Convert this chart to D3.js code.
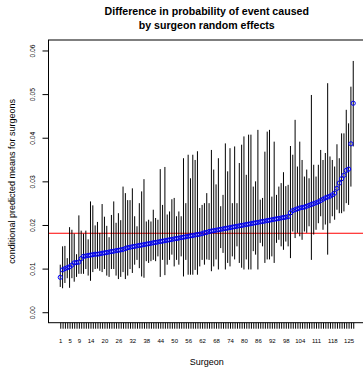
<!DOCTYPE html>
<html>
<head>
<meta charset="utf-8">
<script src="https://cdn.jsdelivr.net/npm/d3@7"></script>
<style>
  html, body { margin: 0; padding: 0; background: #fff; }
  svg { display: block; font-family: "Liberation Sans", Arial, Helvetica, sans-serif; }
</style>
</head>
<body>
<svg id="chart" width="363" height="367"></svg>
<script>
const titleLines = ["Difference in probability of event caused", "by surgeon random effects"];
const xTitle = "Surgeon";
const yTitle = "conditional predicted means for surgeons";
const referenceLine = 0.0181;
const yTicks = [0, 0.01, 0.02, 0.03, 0.04, 0.05, 0.06];
const yTickLabels = ["0.00", "0.01", "0.02", "0.03", "0.04", "0.05", "0.06"];
const xLabelled = [1, 5, 9, 14, 20, 26, 32, 38, 44, 50, 56, 62, 68, 74, 80, 86, 92, 98, 104, 111, 118, 125];

const means = [
  0.0080, 0.0097, 0.0100, 0.0102, 0.0104, 0.0108, 0.0113, 0.0114, 0.0115, 0.0123,
  0.0128, 0.0129, 0.0130, 0.0131, 0.0132, 0.0133, 0.0133, 0.0134, 0.0135, 0.0136,
  0.0137, 0.0138, 0.0139, 0.0140, 0.0141, 0.0142, 0.0143, 0.0144, 0.0146, 0.0148,
  0.0149, 0.0150, 0.0151, 0.0152, 0.0153, 0.0154, 0.0155, 0.0156, 0.0157, 0.0158,
  0.0159, 0.0160, 0.0161, 0.0162, 0.0163, 0.0164, 0.0165, 0.0166, 0.0167, 0.0168,
  0.0169, 0.0170, 0.0171, 0.0172, 0.0173, 0.0174, 0.0175, 0.0176, 0.0177, 0.0178,
  0.0179, 0.0180, 0.0182, 0.0183, 0.0185, 0.0186, 0.0187, 0.0188, 0.0189, 0.0190,
  0.0191, 0.0192, 0.0193, 0.0194, 0.0195, 0.0196, 0.0197, 0.0198, 0.0199, 0.0200,
  0.0201, 0.0202, 0.0203, 0.0204, 0.0205, 0.0206, 0.0207, 0.0208, 0.0209, 0.0210,
  0.0211, 0.0212, 0.0213, 0.0214, 0.0215, 0.0216, 0.0217, 0.0218, 0.0219, 0.0228,
  0.0233, 0.0235, 0.0237, 0.0239, 0.0240, 0.0241, 0.0243, 0.0245, 0.0247, 0.0249,
  0.0251, 0.0253, 0.0256, 0.0259, 0.0262, 0.0264, 0.0266, 0.0269, 0.0273, 0.0284,
  0.0296, 0.0306, 0.0314, 0.0325, 0.0328, 0.0386, 0.0479
];
const lower = [
  0.0058, 0.0055, 0.0067, 0.0078, 0.0056, 0.0078, 0.0070, 0.0081, 0.0088, 0.0088,
  0.0088, 0.0099, 0.0084, 0.0072, 0.0092, 0.0099, 0.0100, 0.0095, 0.0092, 0.0099,
  0.0084, 0.0081, 0.0099, 0.0099, 0.0084, 0.0076, 0.0081, 0.0092, 0.0076, 0.0084,
  0.0099, 0.0090, 0.0109, 0.0120, 0.0101, 0.0082, 0.0079, 0.0117, 0.0113, 0.0117,
  0.0120, 0.0117, 0.0128, 0.0081, 0.0120, 0.0085, 0.0109, 0.0120, 0.0132, 0.0105,
  0.0120, 0.0109, 0.0128, 0.0082, 0.0120, 0.0086, 0.0086, 0.0086, 0.0097, 0.0086,
  0.0105, 0.0120, 0.0109, 0.0121, 0.0120, 0.0094, 0.0105, 0.0121, 0.0098, 0.0147,
  0.0136, 0.0098, 0.0113, 0.0105, 0.0128, 0.0121, 0.0151, 0.0113, 0.0102, 0.0098,
  0.0121, 0.0098, 0.0098, 0.0140, 0.0132, 0.0098, 0.0159, 0.0151, 0.0113, 0.0121,
  0.0121, 0.0128, 0.0113, 0.0159, 0.0166, 0.0151, 0.0143, 0.0162, 0.0151, 0.0124,
  0.0185, 0.0170, 0.0182, 0.0174, 0.0166, 0.0185, 0.0182, 0.0197, 0.0120, 0.0178,
  0.0189, 0.0204, 0.0220, 0.0189, 0.0201, 0.0132, 0.0204, 0.0220, 0.0212, 0.0235,
  0.0227, 0.0227, 0.0231, 0.0250, 0.0246, 0.0288, 0.0380
];
const upper = [
  0.0109, 0.0151, 0.0152, 0.0124, 0.0195, 0.0189, 0.0180, 0.0133, 0.0222, 0.0187,
  0.0180, 0.0187, 0.0167, 0.0254, 0.0245, 0.0199, 0.0207, 0.0182, 0.0248, 0.0219,
  0.0198, 0.0172, 0.0223, 0.0254, 0.0205, 0.0227, 0.0211, 0.0288, 0.0273, 0.0257,
  0.0257, 0.0284, 0.0220, 0.0197, 0.0250, 0.0277, 0.0305, 0.0208, 0.0212, 0.0208,
  0.0235, 0.0216, 0.0212, 0.0328, 0.0246, 0.0333, 0.0224, 0.0231, 0.0259, 0.0262,
  0.0220, 0.0231, 0.0220, 0.0353, 0.0250, 0.0361, 0.0307, 0.0361, 0.0349, 0.0369,
  0.0239, 0.0246, 0.0250, 0.0273, 0.0250, 0.0372, 0.0327, 0.0293, 0.0353, 0.0243,
  0.0269, 0.0387, 0.0323, 0.0376, 0.0250, 0.0380, 0.0250, 0.0342, 0.0384, 0.0403,
  0.0315, 0.0407, 0.0407, 0.0288, 0.0300, 0.0418, 0.0258, 0.0262, 0.0368, 0.0414,
  0.0418, 0.0265, 0.0391, 0.0269, 0.0288, 0.0296, 0.0321, 0.0289, 0.0292, 0.0381,
  0.0361, 0.0441, 0.0334, 0.0391, 0.0349, 0.0311, 0.0327, 0.0307, 0.0498, 0.0338,
  0.0311, 0.0338, 0.0372, 0.0349, 0.0365, 0.0525, 0.0357, 0.0349, 0.0334, 0.0385,
  0.0353, 0.0410, 0.0410, 0.0464, 0.0433, 0.0517, 0.0576
];

const surgeons = means.map((m, i) => i + 1);
const rows = surgeons.map((s, i) => ({ s, m: means[i], lo: lower[i], hi: upper[i] }));

const svg = d3.select("#chart");
const plot = { left: 48.5, right: 365, top: 40, bottom: 322.7 };

const x = d3.scaleLinear().domain([1 - 5.06, surgeons.length + 5.06]).range([plot.left, plot.right]);
const y = d3.scaleLinear().domain([-0.0024, 0.0624]).range([plot.bottom, plot.top]);

svg.append("rect").attr("width", 363).attr("height", 367).attr("fill", "#fff");

// title
svg.append("g").selectAll("text").data(titleLines).join("text")
  .attr("x", (plot.left + plot.right) / 2)
  .attr("y", (d, i) => 15.4 + i * 13.3)
  .attr("text-anchor", "middle")
  .attr("font-weight", "bold")
  .attr("font-size", "10.6px")
  .attr("fill", "#000")
  .text(d => d);

// reference line
svg.append("line")
  .attr("x1", plot.left).attr("x2", plot.right)
  .attr("y1", y(referenceLine)).attr("y2", y(referenceLine))
  .attr("stroke", "#ff0000").attr("stroke-width", 1);

// intervals
svg.append("g").selectAll("line").data(rows).join("line")
  .attr("x1", d => x(d.s)).attr("x2", d => x(d.s))
  .attr("y1", d => y(d.lo)).attr("y2", d => y(d.hi))
  .attr("stroke", "#000").attr("stroke-width", 1);

// means
svg.append("g").selectAll("circle").data(rows).join("circle")
  .attr("cx", d => x(d.s)).attr("cy", d => y(d.m))
  .attr("r", 2.1)
  .attr("fill", "none").attr("stroke", "#0000ff").attr("stroke-width", 1);

// box
svg.append("rect")
  .attr("x", plot.left).attr("y", plot.top)
  .attr("width", plot.right - plot.left).attr("height", plot.bottom - plot.top)
  .attr("fill", "none").attr("stroke", "#000").attr("stroke-width", 1);

// y axis
const yAxis = d3.axisLeft(y).tickValues(yTicks).tickSize(6)
  .tickFormat((d, i) => yTickLabels[i]);
const gy = svg.append("g").attr("transform", `translate(${plot.left},0)`).call(yAxis);
gy.select(".domain").remove();
gy.selectAll(".tick line").attr("stroke", "#000");
gy.selectAll(".tick text")
  .attr("transform", "rotate(-90)")
  .attr("x", 0).attr("y", -13.7).attr("dy", null)
  .attr("text-anchor", "middle")
  .attr("font-size", "6.8px")
  .attr("font-family", "Liberation Sans, Arial, sans-serif")
  .attr("fill", "#000");

// x axis
const xAxis = d3.axisBottom(x).tickValues(surgeons).tickSize(6)
  .tickFormat(d => xLabelled.includes(d) ? String(d) : "");
const gx = svg.append("g").attr("transform", `translate(0,${plot.bottom})`).call(xAxis);
gx.select(".domain").remove();
gx.selectAll(".tick line").attr("stroke", "#000");
gx.selectAll(".tick text")
  .attr("y", 20.3).attr("dy", null)
  .attr("font-size", "6px")
  .attr("font-family", "Liberation Sans, Arial, sans-serif")
  .attr("fill", "#000");

// axis titles
svg.append("text")
  .attr("x", (plot.left + plot.right) / 2).attr("y", 364.5)
  .attr("text-anchor", "middle").attr("font-size", "9px").attr("fill", "#000")
  .text(xTitle);
svg.append("text")
  .attr("transform", `translate(14.9,${(plot.top + plot.bottom) / 2}) rotate(-90)`)
  .attr("text-anchor", "middle").attr("font-size", "9px").attr("fill", "#000")
  .text(yTitle);
</script>
</body>
</html>
